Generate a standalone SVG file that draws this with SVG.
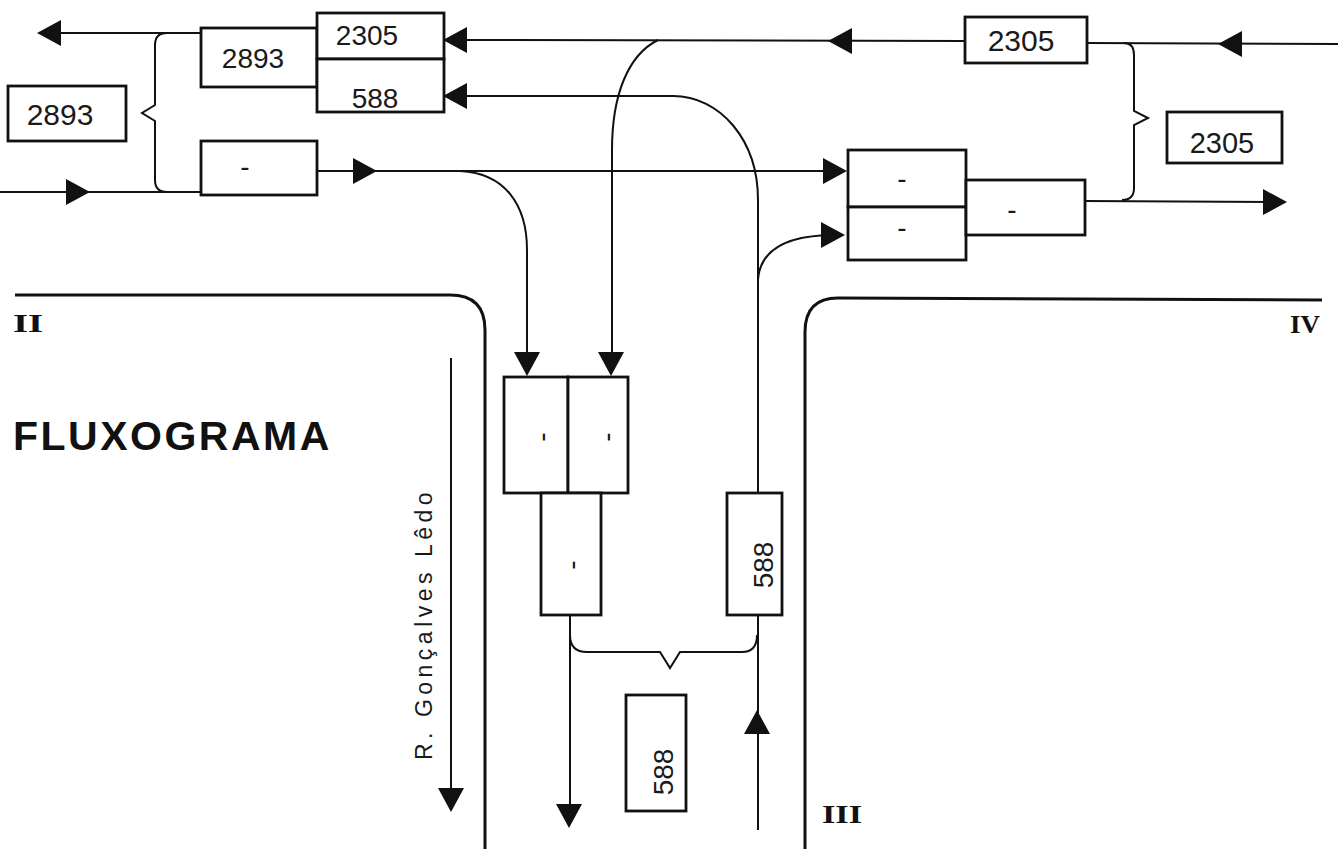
<svg xmlns="http://www.w3.org/2000/svg" xmlns:xlink="http://www.w3.org/1999/xlink" width="1338" height="849" viewBox="0 0 1338 849">
<style>
.box{fill:#fff;stroke:#111;stroke-width:2.8}
.ln{fill:none;stroke:#111;stroke-width:2}
.st{fill:none;stroke:#111;stroke-width:3}
.t{font-family:"Liberation Sans",Arial,sans-serif;font-size:28px;fill:#1a1a1a;text-anchor:middle}
.rn{font-family:"Liberation Serif","Times New Roman",serif;font-weight:bold;font-size:25px;fill:#111}
.ah{fill:#111}
</style>
<defs>
<path id="ah" d="M0 0 L-24 -13 L-24 13 Z"/>
</defs>
<rect width="1338" height="849" fill="#fff"/>

<g id="streets">
<path class="st" d="M15 295 L450 295 Q485 295 485 330 L485 849"/>
<path class="st" d="M805 849 L805 332 Q805 298 838 298 L1322 300"/>
</g>

<g id="connectors">
<path class="ln" d="M201 33 L45 33"/>
<path class="ln" d="M0 192 L201 192"/>
<path class="ln" d="M317 171 L840 171"/>
<path class="ln" d="M1338 44 L1087 43"/>
<path class="ln" d="M965 41 L450 40"/>
<path class="ln" d="M658 40 C628 55 612 95 612 150 L612 370"/>
<path class="ln" d="M460 171 C505 173 527 205 527 250 L527 370"/>
<path class="ln" d="M758 493 L758 200 C758 140 720 96 673 96 L450 96"/>
<path class="ln" d="M758 280 C760 250 785 234 840 235"/>
<path class="ln" d="M1085 201 L1280 202"/>
<path class="ln" d="M570 615 L570 820"/>
<path class="ln" d="M758 830 L758 615"/>
<path class="ln" d="M451 358 L451 805"/>
<path class="ln" d="M167 33 Q155 33 155 45 L155 105 L142 113 L155 121 L155 180 Q155 192 167 192"/>
<path class="ln" d="M1124 43 Q1134 43 1134 55 L1134 111 L1148 118 L1134 125 L1134 188 Q1134 200 1122 200"/>
<path class="ln" d="M570 635 Q570 652 587 652 L660 652 L670 668 L680 652 L742 652 Q757 652 757 635"/>
<use xlink:href="#ah" class="ah" transform="translate(37,33) rotate(180)"/>
<use xlink:href="#ah" class="ah" transform="translate(90,192)"/>
<use xlink:href="#ah" class="ah" transform="translate(377,171)"/>
<use xlink:href="#ah" class="ah" transform="translate(443,40) rotate(180)"/>
<use xlink:href="#ah" class="ah" transform="translate(443,96) rotate(180)"/>
<use xlink:href="#ah" class="ah" transform="translate(828,41) rotate(180)"/>
<use xlink:href="#ah" class="ah" transform="translate(1218,44) rotate(180)"/>
<use xlink:href="#ah" class="ah" transform="translate(847,171)"/>
<use xlink:href="#ah" class="ah" transform="translate(845,235)"/>
<use xlink:href="#ah" class="ah" transform="translate(1287,202)"/>
<use xlink:href="#ah" class="ah" transform="translate(527,376) rotate(90)"/>
<use xlink:href="#ah" class="ah" transform="translate(611,376) rotate(90)"/>
<use xlink:href="#ah" class="ah" transform="translate(569,828) rotate(90)"/>
<use xlink:href="#ah" class="ah" transform="translate(757,710) rotate(-90)"/>
<use xlink:href="#ah" class="ah" transform="translate(451,812) rotate(90)"/>
</g>

<g id="n-2893-top"><rect class="box" x="201" y="28" width="116" height="59"/><text class="t" x="253" y="68">2893</text></g>
<g id="n-2305-top"><rect class="box" x="317" y="13" width="127" height="46"/><text class="t" x="367" y="45">2305</text></g>
<g id="n-588-top"><rect class="box" x="317" y="59" width="127" height="53"/><text class="t" x="375" y="108">588</text></g>
<g id="n-2893-label"><rect class="box" x="8" y="86" width="118" height="55"/><text class="t" x="60" y="125" style="font-size:30px">2893</text></g>
<g id="n-dash-left"><rect class="box" x="201" y="141" width="116" height="54"/><text class="t" x="245" y="176">-</text></g>
<g id="n-2305-topright"><rect class="box" x="965" y="17" width="122" height="46"/><text class="t" x="1021" y="51" style="font-size:30px">2305</text></g>
<g id="n-2305-label"><rect class="box" x="1167" y="112" width="115" height="51"/><text class="t" x="1222" y="153" style="font-size:29px">2305</text></g>
<g id="n-dash-upper"><rect class="box" x="848" y="150" width="118" height="57"/><text class="t" x="902" y="188">-</text></g>
<g id="n-dash-lower"><rect class="box" x="848" y="207" width="118" height="53"/><text class="t" x="902" y="237">-</text></g>
<g id="n-dash-right"><rect class="box" x="966" y="180" width="119" height="55"/><text class="t" x="1012" y="219">-</text></g>
<g id="n-v1"><rect class="box" x="504" y="377" width="64" height="116"/><text class="t" transform="translate(551,437) rotate(-90)">-</text></g>
<g id="n-v2"><rect class="box" x="568" y="377" width="60" height="116"/><text class="t" transform="translate(616,437) rotate(-90)">-</text></g>
<g id="n-v3"><rect class="box" x="541" y="493" width="60" height="122"/><text class="t" transform="translate(581,565) rotate(-90)">-</text></g>
<g id="n-588-v"><rect class="box" x="727" y="493" width="55" height="122"/><text class="t" transform="translate(773,565) rotate(-90)">588</text></g>
<g id="n-588-label"><rect class="box" x="626" y="695" width="60" height="116"/><text class="t" transform="translate(673,772) rotate(-90)">588</text></g>

<g id="labels">
<text x="13" y="450" style="font-family:'Liberation Sans',Arial,sans-serif;font-weight:bold;font-size:41px;letter-spacing:2.5px;fill:#111">FLUXOGRAMA</text>
<text transform="translate(432,760) rotate(-90)" style="font-family:'Liberation Sans',Arial,sans-serif;font-size:23px;letter-spacing:4.5px;fill:#1a1a1a">R. Gonçalves Lêdo</text>
<text class="rn" transform="translate(13,332) scale(1.55,1)">II</text>
<text class="rn" transform="translate(822,823) scale(1.37,1)">III</text>
<text class="rn" transform="translate(1290,333) scale(1.08,1)">IV</text>
</g>
</svg>
